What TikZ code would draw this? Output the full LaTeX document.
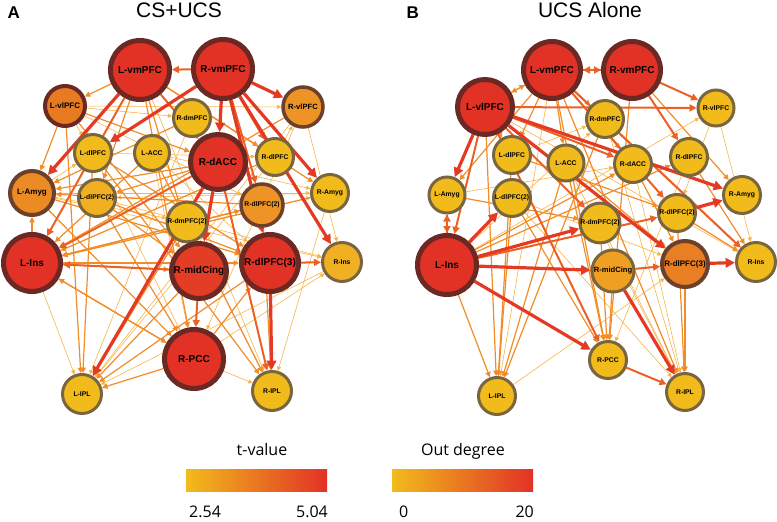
\documentclass[tikz,border=0pt]{standalone}
\usepackage{fontspec}
\setmainfont{Liberation Sans}
\newfontfamily\barfont{Open Sans}
\usetikzlibrary{arrows.meta}
\pgfdeclarelayer{bg}
\pgfsetlayers{bg,main}
\definecolor{cRed}{RGB}{226,50,38}
\definecolor{cRim}{RGB}{108,40,34}
\definecolor{cYel}{RGB}{242,187,28}
\definecolor{cOlive}{RGB}{122,102,62}
\definecolor{cOrgA}{RGB}{232,122,34}
\definecolor{cOrgB}{RGB}{238,148,38}
\definecolor{cOrgC}{RGB}{241,176,34}
\definecolor{cBrown}{RGB}{108,64,42}
\definecolor{cBarMid}{RGB}{236,140,40}
\definecolor{eLo}{RGB}{248,180,72}
\definecolor{eMd}{RGB}{241,140,40}
\definecolor{eMr}{RGB}{236,96,36}
\definecolor{eHi}{RGB}{228,58,36}
\tikzset{
  nd/.style={circle, inner sep=0pt},
  fs/.style={font=\bfseries\fontsize{#1}{#1}\selectfont},
  hub/.style={nd, fill=cRed, draw=cRim, line width=5pt, minimum size=#1, fs=10},
  warm/.style={nd, fill=cOrgA, draw=cBrown, line width=4pt, minimum size=#1, fs=8},
  cool/.style={nd, fill=cYel, draw=cOlive, line width=3pt, minimum size=#1, fs=6.8},
  tip/.style={-{Triangle[length=3pt 2,width=3pt 2]}},
  elo/.style={tip, draw=eLo, line width=0.6pt},
  emd/.style={tip, draw=eMd, line width=1.2pt},
  emr/.style={tip, draw=eMr, line width=2pt},
  ehi/.style={tip, draw=eHi, line width=3.2pt},
  bartext/.style={font=\barfont\fontsize{16}{16}\selectfont}
}
\begin{document}
\begin{tikzpicture}[x=1pt,y=-1pt]
\useasboundingbox (0,0) rectangle (777,522);

\node[anchor=base west, font=\bfseries\fontsize{17}{17}\selectfont] (lblA) at (4,18) {A};
\node[anchor=base, font=\fontsize{21}{21}\selectfont] (ttlA) at (179,17) {CS+UCS};
\node[anchor=base west, font=\bfseries\fontsize{17}{17}\selectfont] (lblB) at (403,18) {B};
\node[anchor=base, font=\fontsize{21}{21}\selectfont] (ttlB) at (590,17) {UCS Alone};

\node[hub=59] (aLvmPFC) at (140,70) {L-vmPFC};
\node[hub=59] (aRvmPFC) at (223,69) {R-vmPFC};
\node[warm=40, draw=cRim] (aLvlPFC) at (65,106) {L-vlPFC};
\node[warm=40, fill=cOrgB, line width=3.5pt, fs=7.6] (aRvlPFC) at (303,107) {R-vlPFC};
\node[cool=37] (aRdmPFC) at (192,118) {R-dmPFC};
\node[cool=37] (aLdlPFC) at (93,153) {L-dlPFC};
\node[cool=35] (aLACC) at (152,153) {L-ACC};
\node[hub=55] (aRdACC) at (218,162) {R-dACC};
\node[cool=37] (aRdlPFC) at (275,157) {R-dlPFC};
\node[warm=44, fill=cOrgB!60!cOrgA] (aLAmyg) at (32,193) {L-Amyg};
\node[cool=37] (aRAmyg) at (330,193) {R-Amyg};
\node[cool=37, fill=cOrgC] (aLdlPFCb) at (97,198) {L-dlPFC(2)};
\node[warm=42, fill=cOrgB, line width=3.5pt, fs=6.8] (aRdlPFCb) at (262,205) {R-dlPFC(2)};
\node[cool=37] (aRdmPFCb) at (187,222) {R-dmPFC(2)};
\node[hub=57] (aLIns) at (32,263) {L-Ins};
\node[hub=55, fill=cRed!85!cOrgA] (aRmidCing) at (199,271) {R-midCing};
\node[hub=57] (aRdlPFCc) at (270,263) {R-dlPFC(3)};
\node[cool=39, fill=cOrgC] (aRIns) at (342,262) {R-Ins};
\node[hub=59] (aRPCC) at (194,359) {R-PCC};
\node[cool=39] (aLIPL) at (82,394) {L-IPL};
\node[cool=39] (aRIPL) at (272,391) {R-IPL};

\node[hub=57] (bLvmPFC) at (552,70) {L-vmPFC};
\node[hub=57] (bRvmPFC) at (632,70) {R-vmPFC};
\node[hub=55] (bLvlPFC) at (485,107) {L-vlPFC};
\node[cool=36] (bRvlPFC) at (716,108) {R-vlPFC};
\node[cool=37] (bRdmPFC) at (605,119) {R-dmPFC};
\node[cool=37] (bLdlPFC) at (512,155) {L-dlPFC};
\node[cool=36] (bLACC) at (566,163) {L-ACC};
\node[cool=37] (bRdACC) at (633,164) {R-dACC};
\node[cool=37] (bRdlPFC) at (689,157) {R-dlPFC};
\node[cool=36] (bLAmyg) at (447,195) {L-Amyg};
\node[cool=37] (bRAmyg) at (742,195) {R-Amyg};
\node[cool=37] (bLdlPFCb) at (512,198) {L-dlPFC(2)};
\node[cool=37] (bRdmPFCb) at (600,223) {R-dmPFC(2)};
\node[cool=37] (bRdlPFCb) at (677,213) {R-dlPFC(2)};
\node[hub=59] (bLIns) at (447,265) {L-Ins};
\node[cool=42, fill=cOrgB!70!cYel, fs=7.6] (bRmidCing) at (613,271) {R-midCing};
\node[warm=46, fill=cOrgA!80!cOrgB] (bRdlPFCc) at (685,264) {R-dlPFC(3)};
\node[cool=39] (bRIns) at (756,262) {R-Ins};
\node[cool=37] (bRPCC) at (608,360) {R-PCC};
\node[cool=37] (bLIPL) at (497,396) {L-IPL};
\node[cool=37] (bRIPL) at (685,392) {R-IPL};

\begin{pgfonlayer}{bg}
\foreach \s/\t in {aLIns/aLIPL, aRAmyg/aRIPL, aRvlPFC/aRIns, aLvlPFC/aRvlPFC, aLAmyg/aRAmyg,
  aLdlPFC/aRdlPFC, aLAmyg/aRIns, aLvlPFC/aLdlPFC, aLAmyg/aLdlPFC, aRdlPFC/aRvlPFC,
  aRPCC/aRIPL, aRPCC/aRIns, aLdlPFCb/aRIns, aLACC/aRdlPFCc, aRdmPFCb/aRIPL,
  aLvlPFC/aRdlPFCb, aLAmyg/aRdmPFCb, aLIns/aRAmyg, aLdlPFC/aRPCC, aRvlPFC/aLIPL,
  aRIns/aLIPL, aLACC/aRAmyg, aLvlPFC/aRdmPFC, aRdlPFC/aLIPL, aLvmPFC/aRIPL,
  aRAmyg/aLdlPFCb, aRvlPFC/aRPCC, aLACC/aRPCC, aRdmPFC/aLIPL,
  bLIPL/bRdlPFCc, bRvlPFC/bRdlPFCb, bLIns/bRvlPFC, bLdlPFCb/bRdlPFCc, bRdACC/bRIPL,
  bRdmPFCb/bRIPL, bLvlPFC/bRIns, bRdlPFC/bRPCC, bLdlPFC/bRdmPFC, bLAmyg/bRdACC,
  bLIns/bRdmPFC, bRvlPFC/bRIns, bLACC/bRIPL, bLdlPFCb/bRIPL, bRdmPFC/bRIPL, bLvmPFC/bLIPL}
  \draw[elo] (\s) -- (\t);
\foreach \s/\t in {aLvmPFC/aLvlPFC, aLvlPFC/aLAmyg, aLIns/aLAmyg, aRPCC/aLIPL, aRPCC/aLIns,
  aRPCC/aRdlPFCc, aLIns/aRPCC, aLIns/aRmidCing, aLdlPFCb/aRPCC, aLdlPFC/aLIPL,
  aLvlPFC/aLIPL, aRdlPFCb/aLIns, aRdlPFC/aLIns, aRAmyg/aLIns, aLACC/aRIPL,
  aRdlPFCc/aLIPL, aRvlPFC/aLIns, aLvmPFC/aRmidCing, aLvmPFC/aRPCC, aLvmPFC/aRdlPFC,
  aLvmPFC/aRAmyg, aLvlPFC/aRdACC, aLAmyg/aRPCC, aLdlPFCb/aRdlPFCc, aRdmPFCb/aLIPL,
  aLdlPFC/aRIPL, aRdmPFC/aLAmyg, aLACC/aLIns, aRdACC/aLAmyg, aRmidCing/aLIPL,
  aRdlPFCb/aRIPL, aLvmPFC/aLdlPFCb, aLAmyg/aRdlPFCc, aLIns/aRdlPFCc, aLIns/aRdlPFCb,
  aLdlPFCb/aRmidCing, aRdlPFCb/aLAmyg, aLvlPFC/aRmidCing, aLdlPFC/aRdlPFCc, aRdACC/aLdlPFCb,
  bLvlPFC/bLvmPFC, bLIns/bLIPL, bLdlPFC/bLIPL, bLdlPFCb/bLIPL, bLACC/bLIPL,
  bRdmPFC/bLIPL, bRdmPFCb/bRPCC, bRmidCing/bRPCC, bLACC/bRPCC, bLdlPFCb/bRPCC,
  bRdlPFCc/bRIPL, bRdlPFCb/bRIPL, bRdlPFCb/bRIns, bRdlPFC/bRIns, bLvmPFC/bRdmPFC,
  bLvmPFC/bLACC, bLvmPFC/bRdACC, bRvmPFC/bRAmyg, bLvmPFC/bLdlPFC, bLvmPFC/bLAmyg,
  bLvlPFC/bLdlPFC, bLvmPFC/bRPCC, bLvmPFC/bRIPL, bRvmPFC/bRPCC, bLIns/bRdlPFC,
  bLIns/bRdACC, bRdACC/bRdlPFCc, bLACC/bRdlPFCc, bLdlPFC/bRdlPFCb, bRdmPFC/bRIns,
  bLvmPFC/bLvlPFC, bLAmyg/bRdmPFCb, bLvlPFC/bLIPL}
  \draw[emd] (\s) -- (\t);
\foreach \s/\t in {aRvmPFC/aLvmPFC, aRdACC/aLIns, aRmidCing/aRPCC, aRvmPFC/aRdlPFC,
  aLvmPFC/aLIns, aRdlPFCc/aRIns, aRmidCing/aLIns, aRdACC/aRIPL, aLvmPFC/aRdACC,
  aRvmPFC/aRdlPFCb,
  bRmidCing/bRdlPFCc, bRPCC/bRIPL, bLvlPFC/bRvlPFC, bRvmPFC/bRdlPFC, bLvlPFC/bRPCC,
  bLAmyg/bLIns, bLIns/bLAmyg, bLvlPFC/bRdACC, bLIns/bRdlPFCb, bLvmPFC/bRvmPFC,
  bRvmPFC/bLvmPFC, bLvmPFC/bRIns, bLvlPFC/bLIns, bLvmPFC/bRdlPFCb, bLvlPFC/bRdmPFCb,
  bRvmPFC/bRvlPFC}
  \draw[emr] (\s) -- (\t);
\foreach \s/\t in {aRvmPFC/aRvlPFC, aRvmPFC/aRdACC, aRvmPFC/aRAmyg, aRvmPFC/aRIns,
  aRvmPFC/aLdlPFC, aLvmPFC/aLAmyg, aRdACC/aLIPL, aRdlPFCc/aRIPL, aRdACC/aRmidCing,
  aRvmPFC/aRdlPFCc,
  bLvlPFC/bLAmyg, bLIns/bLdlPFCb, bLIns/bRmidCing, bRdlPFCc/bRIns, bLIns/bRPCC,
  bRdlPFCb/bRAmyg, bLIns/bRdmPFCb, bRmidCing/bRIPL, bLvlPFC/bRdlPFCc, bLvlPFC/bRAmyg}
  \draw[ehi] (\s) -- (\t);
\end{pgfonlayer}

\node[bartext, anchor=base] (tval) at (262,455) {t-value};
\shade[left color=cYel, middle color=cBarMid, right color=cRed] (186,469) rectangle (327,491);
\node[bartext, anchor=base west, inner sep=0pt] (tmin) at (189,517) {2.54};
\node[bartext, anchor=base east, inner sep=0pt] (tmax) at (328,517) {5.04};

\node[bartext, anchor=base] (odeg) at (463,455) {Out degree};
\shade[left color=cYel, middle color=cBarMid, right color=cRed] (392,469) rectangle (533,491);
\node[bartext, anchor=base west, inner sep=0pt] (omin) at (399,517) {0};
\node[bartext, anchor=base east, inner sep=0pt] (omax) at (534,517) {20};
\end{tikzpicture}
\end{document}
